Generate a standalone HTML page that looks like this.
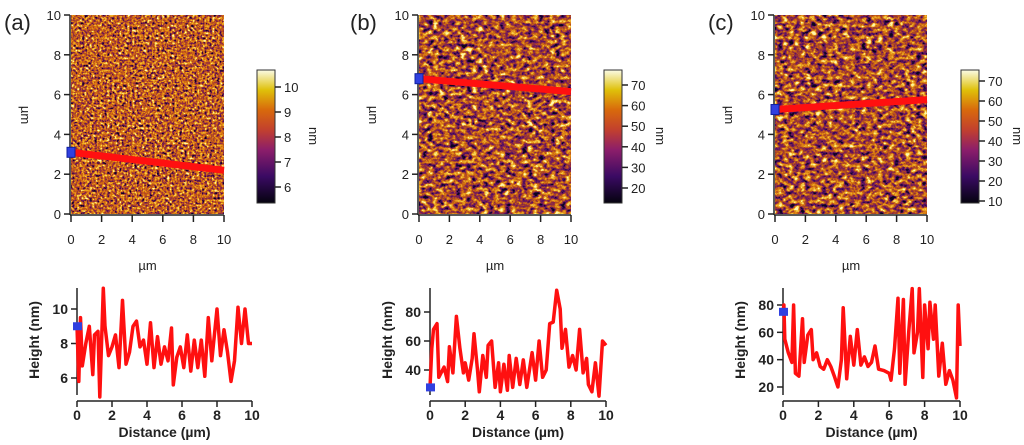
<!DOCTYPE html>
<html><head><meta charset="utf-8">
<style>
html,body{margin:0;padding:0;background:#fff;}
svg{display:block;font-family:"Liberation Sans",Arial,sans-serif;}
.tl{font-size:13px;fill:#222;}
.pl{font-size:14px;font-weight:bold;fill:#222;}
.lab{font-size:22px;fill:#222;}
</style></head>
<body>
<svg id="root" width="1024" height="445" viewBox="0 0 1024 445">
<defs>
  <linearGradient id="cbar" x1="0" y1="1" x2="0" y2="0">
    <stop offset="0" stop-color="#05030f"/>
    <stop offset="0.2" stop-color="#3a0a63"/>
    <stop offset="0.4" stop-color="#8c1e6a"/>
    <stop offset="0.55" stop-color="#c2402e"/>
    <stop offset="0.7" stop-color="#d8690c"/>
    <stop offset="0.85" stop-color="#dfc10a"/>
    <stop offset="1" stop-color="#fbfbe6"/>
  </linearGradient>
  <filter id="texA" x="0" y="0" width="100%" height="100%" color-interpolation-filters="sRGB">
    <feTurbulence type="fractalNoise" baseFrequency="0.4" numOctaves="2" seed="3"/>
    <feColorMatrix type="matrix" values="0.33 0.33 0.33 0 0  0.33 0.33 0.33 0 0  0.33 0.33 0.33 0 0  0 0 0 0 1"/>
    <feComponentTransfer>
      <feFuncR type="linear" slope="3" intercept="-1.0"/>
      <feFuncG type="linear" slope="3" intercept="-1.0"/>
      <feFuncB type="linear" slope="3" intercept="-1.0"/>
    </feComponentTransfer>
    <feComponentTransfer>
      <feFuncR type="table" tableValues="0.05 0.3 0.55 0.72 0.85 0.93 0.98 1"/>
      <feFuncG type="table" tableValues="0.02 0.05 0.15 0.3 0.45 0.62 0.82 0.97"/>
      <feFuncB type="table" tableValues="0.1 0.35 0.3 0.12 0.06 0.1 0.25 0.7"/>
    </feComponentTransfer>
  </filter>
  <filter id="texB" x="0" y="0" width="100%" height="100%" color-interpolation-filters="sRGB">
    <feTurbulence type="fractalNoise" baseFrequency="0.18 0.25" numOctaves="3" seed="8"/>
    <feColorMatrix type="matrix" values="0.33 0.33 0.33 0 0  0.33 0.33 0.33 0 0  0.33 0.33 0.33 0 0  0 0 0 0 1"/>
    <feComponentTransfer>
      <feFuncR type="linear" slope="3" intercept="-1.0"/>
      <feFuncG type="linear" slope="3" intercept="-1.0"/>
      <feFuncB type="linear" slope="3" intercept="-1.0"/>
    </feComponentTransfer>
    <feComponentTransfer>
      <feFuncR type="table" tableValues="0.05 0.25 0.45 0.62 0.8 0.9 0.97 1"/>
      <feFuncG type="table" tableValues="0.02 0.04 0.1 0.22 0.4 0.58 0.8 0.97"/>
      <feFuncB type="table" tableValues="0.1 0.38 0.38 0.2 0.06 0.1 0.25 0.7"/>
    </feComponentTransfer>
  </filter>
</defs>
<g id="maps"></g>
<g id="profiles"></g>
</svg>
<script>
// Profile data (distance in µm, height in nm)
const profAx = [0,0.1,0.2,0.3,0.5,0.7,0.9,1.0,1.2,1.3,1.5,1.6,1.8,2.0,2.2,2.4,2.6,2.8,3.0,3.2,3.4,3.6,3.8,4.0,4.2,4.4,4.6,4.8,5.0,5.2,5.4,5.5,5.7,5.9,6.1,6.3,6.5,6.7,6.9,7.1,7.3,7.5,7.7,8.0,8.2,8.4,8.6,8.8,9.0,9.2,9.4,9.6,9.8,10];
const profAy = [9,5.8,9.5,6.7,8,9,6.2,8.5,8.7,4.9,11.2,9,7.3,7.8,8.5,6.6,10.5,6.8,7.5,9,9.3,7.8,8.2,6.8,9.2,6.6,8.4,6.8,7.8,7.0,8.9,5.6,7.2,7.8,6.6,8.5,6.4,8.2,6.6,8.2,6.1,9.5,7.0,10.0,7.3,8.8,7.5,5.8,7.0,10.1,8.0,10,8.0,8];
const profBx = [0,0.1,0.2,0.4,0.5,0.8,1.0,1.1,1.3,1.5,1.7,1.9,2.0,2.2,2.4,2.5,2.7,2.8,3.0,3.2,3.3,3.5,3.7,3.9,4.0,4.2,4.4,4.5,4.7,4.9,5.1,5.3,5.5,5.8,6.0,6.2,6.4,6.6,6.8,7.0,7.2,7.4,7.5,7.7,7.9,8.1,8.3,8.5,8.7,8.9,9.0,9.2,9.4,9.6,9.8,10];
const profBy = [28,55,68,72,35,42,32,56,38,77,55,38,45,33,48,65,40,25,50,35,57,60,28,45,25,44,26,50,28,48,30,47,28,52,33,60,35,40,72,73,95,82,55,68,42,50,40,68,38,48,30,25,45,22,60,57];
const profCx = [0,0.05,0.1,0.3,0.5,0.6,0.7,0.9,1.1,1.2,1.4,1.6,1.7,1.9,2.1,2.3,2.5,2.7,2.9,3.1,3.3,3.4,3.6,3.8,4.0,4.2,4.4,4.6,4.8,5.0,5.2,5.4,5.7,6.0,6.1,6.3,6.5,6.6,6.8,6.9,7.1,7.3,7.4,7.6,7.7,7.9,8.0,8.2,8.3,8.5,8.6,8.8,9.0,9.2,9.4,9.6,9.8,9.9,10];
const profCy = [75,80,55,45,38,80,30,28,70,38,58,62,40,45,35,33,40,35,28,20,40,78,26,57,36,62,36,42,35,38,50,33,32,30,25,48,85,30,84,22,60,92,45,60,92,27,80,48,82,55,80,28,52,22,32,25,12,80,50];
const xTicks = [0,2,4,6,8,10];
const yTicksA = [6,8,10];
const yTicksB = [40,60,80];
const yTicksC = [20,40,60,80];
const cbTicksA = [6,7,8,9,10];
const cbTicksB = [20,30,40,50,60,70];
const cbTicksC = [10,20,30,40,50,60,70];
const mapTicks = [0,2,4,6,8,10];

const NS='http://www.w3.org/2000/svg';
function mk(parent,tag,attrs,txt){const e=document.createElementNS(NS,tag);for(const k in attrs)e.setAttribute(k,attrs[k]);if(txt!==undefined)e.textContent=txt;parent.appendChild(e);return e;}
const maps=document.getElementById('maps'), profs=document.getElementById('profiles');

const panels=[
 {id:'a',lx:4,ix:71,iw:153,tex:'texA',line:[3.1,2.2],cb:257,cbT:cbTicksA,cbRange:[6,10],cbY:[187,87],
  px0:77,px1:252,pyV:[6,10],pyP:[378,309],pyTop:288,pyBot:395,ticks:yTicksA,xs:profAx,ys:profAy},
 {id:'b',lx:350,ix:419,iw:152,tex:'texB',line:[6.8,6.15],cb:604,cbT:cbTicksB,cbRange:[20,70],cbY:[188,85],
  px0:430,px1:606,pyV:[40,80],pyP:[370,312],pyTop:288,pyBot:395,ticks:yTicksB,xs:profBx,ys:profBy},
 {id:'c',lx:708,ix:775,iw:152,tex:'texB',line:[5.25,5.75],cb:961,cbT:cbTicksC,cbRange:[10,70],cbY:[201,81],
  px0:783,px1:960,pyV:[20,80],pyP:[387,305],pyTop:288,pyBot:395,ticks:yTicksC,xs:profCx,ys:profCy}
];
const iy0=15, iy1=214;
panels.forEach(p=>{
  const g=mk(maps,'g',{});
  
  
  const lab=mk(g,'text',{x:p.lx,y:30,class:'lab'},'('+p.id+')');
  
  
  const img=mk(g,'rect',{x:p.ix,y:iy0,width:p.iw,height:iy1-iy0,fill:'#a0501c',filter:'url(#'+p.tex+')'});
  
  
  const mx=v=>p.ix+v/10*p.iw, my=v=>iy1-v/10*(iy1-iy0);
  mk(g,'line',{x1:p.ix-1,y1:iy0,x2:p.ix-1,y2:iy1+1,stroke:'#222','stroke-width':1.5});
  mk(g,'line',{x1:p.ix-1,y1:iy1+1,x2:p.ix+p.iw,y2:iy1+1,stroke:'#222','stroke-width':1.5});
  mapTicks.forEach(t=>{
    mk(g,'line',{x1:p.ix-7,y1:my(t),x2:p.ix-1,y2:my(t),stroke:'#222','stroke-width':1.5});
    mk(g,'text',{x:p.ix-10,y:my(t)+5,'text-anchor':'end',class:'tl'},t);
    mk(g,'line',{x1:mx(t),y1:iy1+1,x2:mx(t),y2:iy1+8,stroke:'#222','stroke-width':1.5});
    mk(g,'text',{x:mx(t),y:244,'text-anchor':'middle',class:'tl'},t);
  });
  const xt=mk(g,'text',{x:p.ix+p.iw/2,y:270,'text-anchor':'middle',class:'tl'},'µm');
  
  
  const yt=mk(g,'text',{x:0,y:0,'text-anchor':'middle',class:'tl',transform:'translate('+(p.ix-50)+',115) rotate(90)'},'µm');
  
  
  const ln=mk(g,'line',{x1:p.ix,y1:my(p.line[0]),x2:p.ix+p.iw,y2:my(p.line[1]),stroke:'#ff1010','stroke-width':7});
  
  
  const mkr=mk(g,'rect',{x:p.ix-4,y:my(p.line[0])-5,width:8,height:10,fill:'#3040e0',stroke:'#1020a0'});
  
  
  const cb=mk(g,'rect',{x:p.cb,y:70,width:18,height:133,fill:'url(#cbar)',stroke:'#333','stroke-width':1});
  
  
  const cy=v=>p.cbY[0]+(v-p.cbRange[0])/(p.cbRange[1]-p.cbRange[0])*(p.cbY[1]-p.cbY[0]);
  p.cbT.forEach(t=>{
    mk(g,'line',{x1:p.cb+18,y1:cy(t),x2:p.cb+24,y2:cy(t),stroke:'#222','stroke-width':1.5});
    mk(g,'text',{x:p.cb+27,y:cy(t)+5,class:'tl'},t);
  });
  const nm=mk(g,'text',{x:0,y:0,'text-anchor':'middle',class:'tl',transform:'translate('+(p.cb+52)+',136) rotate(90)'},'nm');
  
  

  // profile plot
  const pg=mk(profs,'g',{});
  
  
  const px=v=>p.px0+v/10*(p.px1-p.px0);
  const py=v=>p.pyP[0]+(v-p.pyV[0])/(p.pyV[1]-p.pyV[0])*(p.pyP[1]-p.pyP[0]);
  const xb=p.pyBot+6;
  mk(pg,'line',{x1:p.px0,y1:p.pyTop,x2:p.px0,y2:p.pyBot,stroke:'#222','stroke-width':1.5});
  mk(pg,'line',{x1:p.px0,y1:xb,x2:p.px1,y2:xb,stroke:'#222','stroke-width':1.5});
  p.ticks.forEach(t=>{
    mk(pg,'line',{x1:p.px0-6,y1:py(t),x2:p.px0,y2:py(t),stroke:'#222','stroke-width':1.5});
    mk(pg,'text',{x:p.px0-9,y:py(t)+5,'text-anchor':'end',class:'pl'},t);
  });
  xTicks.forEach(t=>{
    mk(pg,'line',{x1:px(t),y1:xb,x2:px(t),y2:xb+6,stroke:'#222','stroke-width':1.5});
    mk(pg,'text',{x:px(t),y:420,'text-anchor':'middle',class:'pl'},t);
  });
  const xl=mk(pg,'text',{x:(p.px0+p.px1)/2,y:437,'text-anchor':'middle',class:'pl'},'Distance (µm)');
  
  
  const yl=mk(pg,'text',{x:0,y:0,'text-anchor':'middle',class:'pl',transform:'translate('+(p.px0-38)+',340) rotate(-90)'},'Height (nm)');
  
  
  const pts=p.xs.map((x,i)=>px(x).toFixed(1)+','+py(p.ys[i]).toFixed(1)).join(' ');
  const pl=mk(pg,'polyline',{points:pts,fill:'none',stroke:'#ff1010','stroke-width':3.5,'stroke-linejoin':'round'});
  
  
  const sm=mk(pg,'rect',{x:px(0)-4,y:py(p.ys[0])-4,width:9,height:8,fill:'#3040e0'});
  
  
});
</script>
</body></html>
